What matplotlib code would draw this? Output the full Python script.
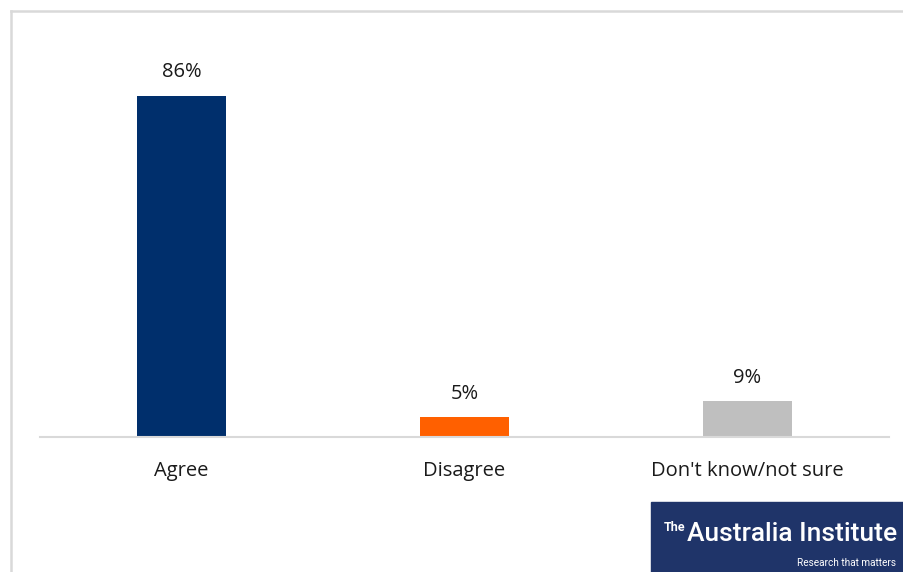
import matplotlib
matplotlib.use("Agg")
import matplotlib.pyplot as plt
from matplotlib.patches import Rectangle
from matplotlib.lines import Line2D

categories = ["Agree", "Disagree", "Don't know/not sure"]
values = [86, 5, 9]
labels = ["86%", "5%", "9%"]
colors = ["#002f6c", "#ff6000", "#bfbfbf"]

plt.rcParams['font.family'] = ['Open Sans', 'DejaVu Sans']

fig = plt.figure(figsize=(9.04, 5.72), dpi=100)
W, H = 904, 572

# chart frame: only the top and left edges are visible
fig.add_artist(Line2D([10.5 / W, 1], [1 - 11 / H, 1 - 11 / H],
                      transform=fig.transFigure, color="#d9d9d9", linewidth=1.8))
fig.add_artist(Line2D([10.5 / W, 10.5 / W], [0, 1 - 11 / H],
                      transform=fig.transFigure, color="#d9d9d9", linewidth=1.8))

ax = fig.add_axes([40 / W, 1 - 437 / H, 849 / W, 397 / H])
x = range(len(categories))
ax.bar(x, values, width=0.315, color=colors)
for i, (v, lab) in enumerate(zip(values, labels)):
    ax.text(i, v + 3.4, lab, ha="center", va="bottom", fontsize=14.5, color="#1a1a1a")

ax.set_xlim(-0.5, 2.5)
ax.set_ylim(0, 100)
ax.set_yticks([])
ax.set_xticks(list(x))
ax.set_xticklabels(categories, fontsize=14.5, color="#1a1a1a")
ax.tick_params(axis="x", length=0, pad=17)
for s in ["top", "right", "left"]:
    ax.spines[s].set_visible(False)
ax.spines["bottom"].set_color("#d9d9d9")
ax.spines["bottom"].set_linewidth(1.5)

# logo block
fig.add_artist(Rectangle((651 / W, 0), 1, (H - 502) / H,
                         transform=fig.transFigure, color="#1f3469"))
fig.text(664 / W, 1 - 531 / H, "The", color="white", fontsize=9,
         family="Roboto", fontweight="bold", va="baseline", ha="left")
fig.text(687 / W, 1 - 541 / H, "Australia Institute", color="white",
         fontsize=19, family="Roboto", fontweight="medium",
         va="baseline", ha="left")
fig.text(797 / W, 1 - 566 / H, "Research that matters", color="white",
         fontsize=7.2, family="Roboto", va="baseline", ha="left")

fig.savefig("out.png", dpi=100)
